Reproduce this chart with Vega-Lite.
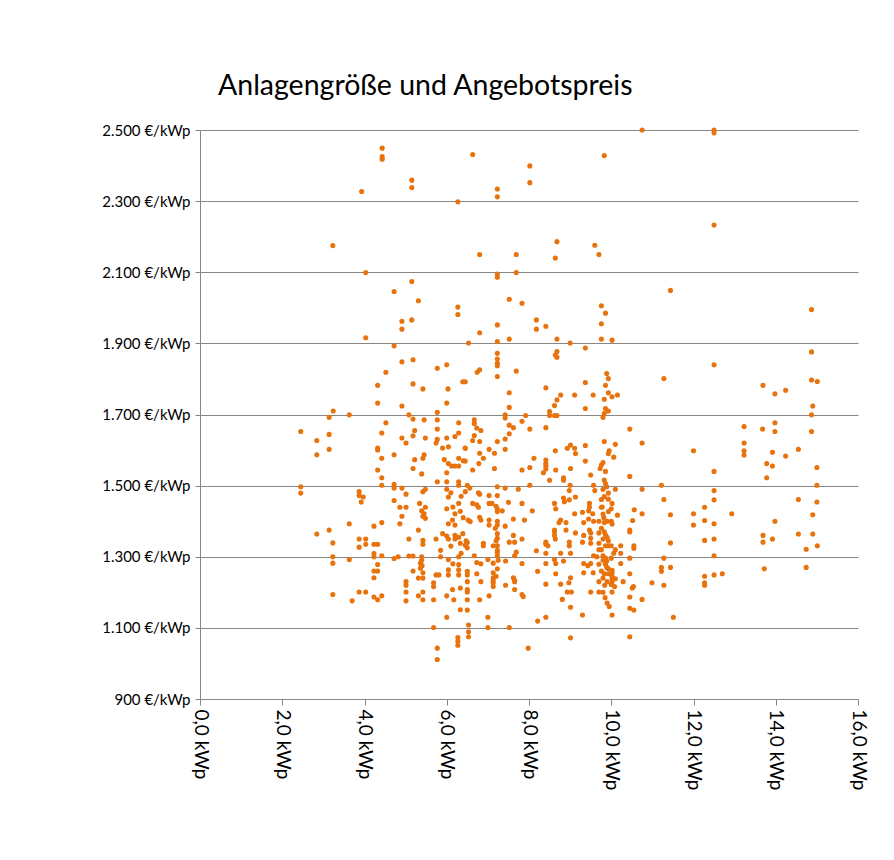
{
 "$schema": "https://vega.github.io/schema/vega-lite/v6.json",
 "width": 658, "height": 569,
 "autosize": {"type": "none"},
 "padding": {"left": 200, "top": 130, "right": 36, "bottom": 161},
 "background": "white",
 "title": {"text": "Anlagengröße und Angebotspreis", "anchor": "start", "frame": "group", "dx": 18, "offset": -6, "baseline": "bottom", "fontSize": 28.5, "font": "Lato", "fontWeight": "normal", "color": "#000000"},
 "config": {"view": {"stroke": null}},
 "data": {"values": [
{"x":4.43,"y":2449},{"x":4.43,"y":2425},{"x":4.43,"y":2418},{"x":3.93,"y":2327},{"x":5.15,"y":2359},{"x":5.15,"y":2338},{"x":6.27,"y":2298},{"x":3.23,"y":2175},
{"x":10.75,"y":2500},{"x":6.63,"y":2431},{"x":9.83,"y":2428},{"x":8.02,"y":2399},{"x":8.02,"y":2352},{"x":7.23,"y":2334},{"x":7.23,"y":2312},{"x":8.68,"y":2186},{"x":9.6,"y":2176},{"x":6.8,"y":2150},{"x":7.69,"y":2150},{"x":8.64,"y":2140},{"x":9.7,"y":2150},
{"x":12.5,"y":2500},{"x":12.5,"y":2492},{"x":12.5,"y":2233},
{"x":4.03,"y":2099},{"x":5.15,"y":2074},{"x":4.72,"y":2046},{"x":5.31,"y":2020},{"x":6.27,"y":2002},{"x":6.27,"y":1981},{"x":4.91,"y":1962},{"x":5.15,"y":1966},{"x":4.91,"y":1940},{"x":4.03,"y":1916},{"x":4.72,"y":1893},{"x":4.91,"y":1848},{"x":5.18,"y":1854},{"x":5.77,"y":1830},{"x":6.0,"y":1840},{"x":4.52,"y":1819},{"x":4.32,"y":1782},{"x":5.18,"y":1786},{"x":5.42,"y":1772},{"x":6.03,"y":1772},{"x":6.39,"y":1792},
{"x":7.23,"y":2095},{"x":7.23,"y":2086},{"x":7.69,"y":2099},{"x":7.52,"y":2024},{"x":7.83,"y":2013},{"x":9.76,"y":2006},{"x":9.86,"y":1985},{"x":9.76,"y":1955},{"x":8.18,"y":1966},{"x":8.18,"y":1940},{"x":8.41,"y":1948},{"x":7.23,"y":1952},{"x":6.8,"y":1930},{"x":6.53,"y":1901},{"x":7.23,"y":1905},{"x":7.52,"y":1912},{"x":8.68,"y":1912},{"x":9.0,"y":1901},{"x":9.37,"y":1887},{"x":9.76,"y":1912},{"x":10.02,"y":1909},{"x":8.68,"y":1877},{"x":8.64,"y":1867},{"x":8.68,"y":1861},{"x":7.23,"y":1872},{"x":7.23,"y":1856},{"x":7.23,"y":1844},{"x":7.23,"y":1837},{"x":7.23,"y":1807},{"x":6.8,"y":1826},{"x":6.74,"y":1819},{"x":7.69,"y":1822},{"x":6.45,"y":1792},{"x":9.89,"y":1815},{"x":9.93,"y":1801},{"x":9.86,"y":1782},{"x":9.93,"y":1761},{"x":9.37,"y":1790},{"x":8.41,"y":1775},{"x":7.52,"y":1761},{"x":8.77,"y":1755},{"x":9.11,"y":1755},{"x":9.56,"y":1755},{"x":10.15,"y":1755},
{"x":11.44,"y":2049},{"x":14.87,"y":1995},{"x":14.87,"y":1876},{"x":12.5,"y":1840},{"x":11.28,"y":1801},{"x":14.87,"y":1797},{"x":15.01,"y":1793},{"x":13.69,"y":1782},{"x":14.24,"y":1768},{"x":13.98,"y":1758},
{"x":14.9,"y":1724},{"x":14.87,"y":1699},{"x":14.87,"y":1652},{"x":13.98,"y":1677},{"x":13.98,"y":1652},{"x":13.68,"y":1659},{"x":13.23,"y":1666},{"x":13.23,"y":1620},{"x":13.23,"y":1598},{"x":13.23,"y":1586},{"x":12.0,"y":1598},{"x":13.92,"y":1594},{"x":14.24,"y":1583},{"x":14.55,"y":1602},{"x":13.78,"y":1562},{"x":13.92,"y":1555},{"x":13.78,"y":1522},{"x":15.0,"y":1551},{"x":12.5,"y":1540},{"x":11.22,"y":1501},{"x":15.0,"y":1501},{"x":12.5,"y":1486},{"x":12.5,"y":1460},{"x":11.28,"y":1461},{"x":14.55,"y":1461},{"x":15.0,"y":1454},{"x":12.27,"y":1439},{"x":11.44,"y":1418},{"x":12.0,"y":1421},{"x":12.93,"y":1421},{"x":14.9,"y":1418},{"x":12.27,"y":1402},{"x":12.0,"y":1389},{"x":12.5,"y":1393},{"x":13.98,"y":1400},
{"x":11.44,"y":1339},{"x":12.27,"y":1346},{"x":12.5,"y":1350},{"x":13.69,"y":1360},{"x":13.69,"y":1341},{"x":13.92,"y":1350},{"x":14.55,"y":1364},{"x":14.9,"y":1364},{"x":15.01,"y":1331},{"x":14.74,"y":1321},{"x":11.28,"y":1296},{"x":12.5,"y":1303},{"x":11.22,"y":1270},{"x":11.22,"y":1259},{"x":11.44,"y":1270},{"x":13.72,"y":1266},{"x":14.74,"y":1270},{"x":12.27,"y":1245},{"x":12.5,"y":1249},{"x":12.7,"y":1252},{"x":12.27,"y":1227},{"x":12.27,"y":1220},{"x":10.99,"y":1227},{"x":11.28,"y":1220},{"x":11.51,"y":1130},
{"x":4.32,"y":1732},{"x":4.91,"y":1724},{"x":6.0,"y":1732},{"x":3.24,"y":1710},{"x":3.14,"y":1692},{"x":3.63,"y":1699},{"x":5.08,"y":1699},{"x":5.18,"y":1687},{"x":5.45,"y":1685},{"x":5.77,"y":1706},{"x":5.77,"y":1685},{"x":6.29,"y":1677},{"x":4.52,"y":1677},{"x":2.45,"y":1652},{"x":4.42,"y":1648},{"x":3.14,"y":1644},{"x":2.84,"y":1627},{"x":5.22,"y":1655},{"x":5.18,"y":1640},{"x":5.77,"y":1659},{"x":4.91,"y":1634},{"x":5.01,"y":1620},{"x":5.48,"y":1634},{"x":5.77,"y":1630},{"x":5.74,"y":1620},{"x":6.0,"y":1634},{"x":6.2,"y":1638},{"x":6.29,"y":1648},{"x":3.14,"y":1602},{"x":2.84,"y":1587},{"x":4.32,"y":1606},{"x":4.32,"y":1600},{"x":4.72,"y":1587},{"x":4.42,"y":1577},{"x":5.45,"y":1587},{"x":5.42,"y":1577},{"x":5.22,"y":1573},{"x":5.9,"y":1606},{"x":6.04,"y":1609},{"x":6.45,"y":1606},{"x":5.94,"y":1573},{"x":6.04,"y":1562},{"x":6.29,"y":1577},{"x":6.4,"y":1570},{"x":6.12,"y":1555},{"x":6.2,"y":1555},{"x":6.29,"y":1555},{"x":4.32,"y":1544},{"x":5.18,"y":1548},{"x":5.39,"y":1533},{"x":4.42,"y":1522},{"x":6.0,"y":1536},{"x":2.45,"y":1497},{"x":2.45,"y":1479},{"x":4.42,"y":1501},{"x":4.72,"y":1504},{"x":4.72,"y":1493},{"x":4.91,"y":1493},{"x":5.77,"y":1511},{"x":6.0,"y":1511},{"x":6.0,"y":1490},{"x":6.29,"y":1511},{"x":6.29,"y":1501},{"x":3.87,"y":1483},{"x":3.87,"y":1472},{"x":3.97,"y":1468},{"x":3.92,"y":1454},{"x":5.01,"y":1476},{"x":5.42,"y":1483},{"x":5.48,"y":1490},{"x":6.04,"y":1468},{"x":4.72,"y":1458},{"x":4.86,"y":1439},{"x":5.01,"y":1439},{"x":5.34,"y":1450},{"x":5.48,"y":1439},{"x":5.39,"y":1429},{"x":5.45,"y":1421},{"x":5.42,"y":1414},{"x":5.48,"y":1408},{"x":4.91,"y":1414},{"x":6.0,"y":1435},{"x":6.29,"y":1450},{"x":6.2,"y":1421},{"x":6.33,"y":1428},{"x":3.63,"y":1393},{"x":4.23,"y":1386},{"x":4.42,"y":1396},{"x":4.86,"y":1393},{"x":6.04,"y":1393},{"x":6.14,"y":1403},{"x":6.2,"y":1389},{"x":3.14,"y":1375},{"x":5.31,"y":1375},
{"x":2.84,"y":1364},{"x":3.87,"y":1350},{"x":4.03,"y":1350},{"x":3.87,"y":1327},{"x":4.03,"y":1335},{"x":3.23,"y":1339},{"x":4.23,"y":1335},{"x":4.32,"y":1335},{"x":5.08,"y":1350},{"x":5.42,"y":1346},{"x":5.42,"y":1335},{"x":5.74,"y":1350},{"x":5.9,"y":1365},{"x":6.0,"y":1358},{"x":6.04,"y":1350},{"x":6.2,"y":1360},{"x":6.2,"y":1350},{"x":6.29,"y":1355},{"x":6.39,"y":1365},{"x":6.33,"y":1338},{"x":6.45,"y":1332},{"x":3.23,"y":1300},{"x":3.23,"y":1282},{"x":3.63,"y":1292},{"x":4.23,"y":1309},{"x":4.23,"y":1300},{"x":4.42,"y":1303},{"x":4.32,"y":1278},{"x":4.23,"y":1260},{"x":4.32,"y":1260},{"x":4.23,"y":1241},{"x":4.72,"y":1295},{"x":4.82,"y":1300},{"x":5.08,"y":1302},{"x":5.18,"y":1302},{"x":5.36,"y":1282},{"x":5.4,"y":1275},{"x":5.36,"y":1268},{"x":5.39,"y":1300},{"x":5.39,"y":1290},{"x":5.18,"y":1260},{"x":5.42,"y":1255},{"x":5.42,"y":1240},{"x":5.31,"y":1240},{"x":5.85,"y":1318},{"x":5.85,"y":1300},{"x":6.04,"y":1292},{"x":6.29,"y":1300},{"x":6.29,"y":1278},{"x":6.29,"y":1263},{"x":6.29,"y":1249},{"x":6.04,"y":1263},{"x":6.04,"y":1249},{"x":5.74,"y":1249},{"x":5.81,"y":1249},{"x":5.68,"y":1227},{"x":5.68,"y":1216},{"x":5.01,"y":1230},{"x":5.01,"y":1220},{"x":5.01,"y":1201},{"x":5.01,"y":1176},{"x":3.23,"y":1194},{"x":3.7,"y":1176},{"x":3.87,"y":1201},{"x":4.03,"y":1201},{"x":4.23,"y":1187},{"x":4.32,"y":1179},{"x":4.42,"y":1190},{"x":5.31,"y":1190},{"x":5.42,"y":1201},{"x":5.42,"y":1179},{"x":5.68,"y":1179},{"x":6.0,"y":1190},{"x":6.14,"y":1208},{"x":6.17,"y":1179},{"x":6.33,"y":1212},{"x":6.33,"y":1151},{"x":6.0,"y":1130},{"x":5.68,"y":1101},{"x":6.27,"y":1073},{"x":6.27,"y":1062},{"x":6.27,"y":1051},{"x":5.77,"y":1043},{"x":5.77,"y":1011},
{"x":7.98,"y":1043},{"x":9.01,"y":1072},{"x":10.45,"y":1075},{"x":7.0,"y":1101},{"x":7.52,"y":1101},{"x":6.53,"y":1108},{"x":6.53,"y":1089},{"x":6.53,"y":1075},{"x":7.0,"y":1130},{"x":8.21,"y":1119},{"x":8.41,"y":1130},{"x":9.3,"y":1136},{"x":10.02,"y":1136},{"x":6.5,"y":1150},{"x":9.01,"y":1158},{"x":10.45,"y":1155},{"x":10.55,"y":1150},{"x":6.8,"y":1179},{"x":6.5,"y":1179},{"x":8.81,"y":1180},{"x":10.75,"y":1180},{"x":7.03,"y":1190},{"x":7.83,"y":1194},{"x":7.86,"y":1188},{"x":10.45,"y":1187},{"x":6.5,"y":1208},{"x":6.5,"y":1201},{"x":7.65,"y":1208},{"x":8.93,"y":1201},{"x":9.03,"y":1201},{"x":9.5,"y":1201},{"x":9.7,"y":1201},{"x":10.02,"y":1201},{"x":10.51,"y":1212},{"x":6.5,"y":1230},{"x":6.83,"y":1230},{"x":7.13,"y":1216},{"x":7.13,"y":1227},{"x":7.43,"y":1220},{"x":7.65,"y":1230},{"x":8.41,"y":1223},{"x":8.77,"y":1223},{"x":8.97,"y":1227},{"x":9.7,"y":1230},{"x":10.02,"y":1230},{"x":10.29,"y":1230},{"x":10.54,"y":1216},{"x":6.5,"y":1259},{"x":6.5,"y":1249},{"x":6.73,"y":1252},{"x":7.13,"y":1255},{"x":7.13,"y":1241},{"x":7.13,"y":1233},{"x":7.23,"y":1266},{"x":7.62,"y":1241},{"x":7.65,"y":1234},{"x":8.21,"y":1259},{"x":8.65,"y":1252},{"x":9.01,"y":1241},{"x":9.33,"y":1255},{"x":9.56,"y":1255},{"x":10.02,"y":1255},{"x":10.02,"y":1262},{"x":10.45,"y":1252},{"x":9.9,"y":1230},{"x":10.0,"y":1222},{"x":10.08,"y":1216},{"x":6.67,"y":1303},{"x":6.73,"y":1284},{"x":6.83,"y":1280},{"x":7.0,"y":1292},{"x":7.13,"y":1282},{"x":7.23,"y":1303},{"x":7.23,"y":1313},{"x":7.43,"y":1288},{"x":7.65,"y":1303},{"x":7.69,"y":1313},{"x":7.83,"y":1281},{"x":8.18,"y":1317},{"x":8.41,"y":1310},{"x":8.41,"y":1281},{"x":8.62,"y":1292},{"x":8.65,"y":1281},{"x":8.77,"y":1310},{"x":8.84,"y":1288},{"x":9.01,"y":1310},{"x":9.33,"y":1281},{"x":9.43,"y":1275},{"x":9.5,"y":1281},{"x":9.57,"y":1303},{"x":9.7,"y":1279},{"x":9.8,"y":1303},{"x":9.86,"y":1296},{"x":9.89,"y":1288},{"x":9.86,"y":1279},{"x":9.89,"y":1270},{"x":9.93,"y":1266},{"x":9.83,"y":1252},{"x":9.93,"y":1252},{"x":10.02,"y":1245},{"x":10.02,"y":1238},{"x":10.1,"y":1238},{"x":10.23,"y":1310},{"x":10.23,"y":1281},{"x":10.45,"y":1296},{"x":10.55,"y":1331},{"x":10.55,"y":1324},{"x":10.45,"y":1370},{"x":6.89,"y":1338},{"x":6.89,"y":1331},{"x":7.23,"y":1365},{"x":7.23,"y":1352},{"x":7.23,"y":1331},{"x":7.23,"y":1318},{"x":7.13,"y":1331},{"x":7.52,"y":1341},{"x":7.65,"y":1341},{"x":7.62,"y":1360},{"x":7.83,"y":1350},{"x":8.41,"y":1341},{"x":8.41,"y":1335},{"x":8.46,"y":1331},{"x":8.62,"y":1360},{"x":8.64,"y":1350},{"x":8.62,"y":1370},{"x":8.98,"y":1341},{"x":8.98,"y":1331},{"x":9.13,"y":1367},{"x":9.3,"y":1341},{"x":9.33,"y":1360},{"x":9.5,"y":1367},{"x":9.5,"y":1352},{"x":9.5,"y":1338},{"x":9.7,"y":1367},{"x":9.7,"y":1338},{"x":9.83,"y":1370},{"x":9.86,"y":1362},{"x":9.9,"y":1355},{"x":9.93,"y":1345},{"x":9.86,"y":1331},{"x":9.93,"y":1331},{"x":10.0,"y":1331},{"x":10.1,"y":1320},{"x":10.06,"y":1310},{"x":10.0,"y":1296},{"x":10.23,"y":1331},{"x":6.47,"y":1345},{"x":6.5,"y":1340},{"x":6.5,"y":1325},
{"x":8.68,"y":1741},{"x":8.62,"y":1725},{"x":8.5,"y":1708},{"x":8.5,"y":1697},{"x":8.62,"y":1697},{"x":8.68,"y":1697},{"x":9.83,"y":1743},{"x":10.02,"y":1750},{"x":9.37,"y":1717},{"x":9.86,"y":1717},{"x":9.93,"y":1710},{"x":9.83,"y":1703},{"x":9.8,"y":1692},{"x":7.52,"y":1720},{"x":7.42,"y":1699},{"x":7.42,"y":1690},{"x":6.67,"y":1685},{"x":6.67,"y":1675},{"x":6.73,"y":1662},{"x":7.92,"y":1697},{"x":7.83,"y":1681},{"x":7.52,"y":1670},{"x":7.62,"y":1663},{"x":8.41,"y":1663},{"x":8.02,"y":1659},{"x":10.45,"y":1659},{"x":6.83,"y":1655},{"x":7.52,"y":1646},{"x":6.67,"y":1641},{"x":6.63,"y":1627},{"x":6.8,"y":1624},{"x":7.23,"y":1624},{"x":7.42,"y":1631},{"x":6.45,"y":1605},{"x":7.03,"y":1602},{"x":7.16,"y":1591},{"x":7.42,"y":1602},{"x":6.8,"y":1591},{"x":6.89,"y":1577},{"x":6.78,"y":1562},{"x":6.45,"y":1569},{"x":6.63,"y":1544},{"x":7.16,"y":1548},{"x":8.12,"y":1577},{"x":8.02,"y":1551},{"x":7.83,"y":1544},{"x":8.41,"y":1572},{"x":8.41,"y":1562},{"x":8.41,"y":1555},{"x":8.41,"y":1547},{"x":8.35,"y":1536},{"x":8.64,"y":1598},{"x":8.93,"y":1605},{"x":9.01,"y":1614},{"x":9.11,"y":1605},{"x":9.13,"y":1590},{"x":9.37,"y":1613},{"x":9.83,"y":1624},{"x":10.1,"y":1616},{"x":9.95,"y":1598},{"x":9.93,"y":1590},{"x":10.06,"y":1580},{"x":10.75,"y":1620},{"x":9.37,"y":1569},{"x":8.65,"y":1544},{"x":9.01,"y":1548},{"x":8.5,"y":1515},{"x":8.84,"y":1522},{"x":8.84,"y":1515},{"x":9.5,"y":1530},{"x":9.8,"y":1565},{"x":9.76,"y":1558},{"x":9.73,"y":1548},{"x":9.86,"y":1540},{"x":10.45,"y":1526},{"x":9.83,"y":1516},{"x":9.86,"y":1506},{"x":8.02,"y":1501},{"x":7.23,"y":1497},{"x":7.42,"y":1493},{"x":6.5,"y":1501},{"x":6.56,"y":1493},{"x":7.74,"y":1490},{"x":9.0,"y":1501},{"x":8.98,"y":1486},{"x":9.57,"y":1501},{"x":9.6,"y":1486},{"x":9.89,"y":1497},{"x":9.8,"y":1490},{"x":9.93,"y":1479},{"x":10.1,"y":1490},{"x":10.75,"y":1490},{"x":6.77,"y":1480},{"x":6.8,"y":1476},{"x":7.03,"y":1472},{"x":7.23,"y":1472},{"x":6.45,"y":1483},{"x":8.84,"y":1465},{"x":8.86,"y":1455},{"x":8.62,"y":1450},{"x":8.65,"y":1435},{"x":9.13,"y":1468},{"x":8.98,"y":1460},{"x":9.83,"y":1469},{"x":9.76,"y":1461},{"x":9.93,"y":1462},{"x":10.02,"y":1450},{"x":9.47,"y":1450},{"x":9.47,"y":1439},{"x":9.45,"y":1429},{"x":9.55,"y":1421},{"x":9.76,"y":1439},{"x":10.0,"y":1435},{"x":9.93,"y":1427},{"x":10.56,"y":1432},{"x":10.15,"y":1417},{"x":10.75,"y":1421},{"x":9.3,"y":1425},{"x":9.11,"y":1421},{"x":6.63,"y":1450},{"x":6.73,"y":1446},{"x":6.77,"y":1439},{"x":7.03,"y":1450},{"x":7.1,"y":1450},{"x":7.2,"y":1442},{"x":7.23,"y":1435},{"x":7.23,"y":1427},{"x":7.5,"y":1453},{"x":7.83,"y":1450},{"x":7.35,"y":1429},{"x":8.08,"y":1429},{"x":6.52,"y":1403},{"x":6.57,"y":1399},{"x":6.8,"y":1411},{"x":6.83,"y":1403},{"x":7.03,"y":1403},{"x":7.03,"y":1389},{"x":7.23,"y":1400},{"x":7.23,"y":1389},{"x":7.42,"y":1386},{"x":7.62,"y":1406},{"x":7.89,"y":1403},{"x":8.77,"y":1403},{"x":8.9,"y":1396},{"x":8.73,"y":1396},{"x":9.33,"y":1396},{"x":9.45,"y":1406},{"x":9.57,"y":1400},{"x":9.7,"y":1400},{"x":9.83,"y":1396},{"x":9.9,"y":1400},{"x":10.0,"y":1400},{"x":10.02,"y":1392},{"x":10.52,"y":1402},{"x":10.45,"y":1375},{"x":8.62,"y":1375},{"x":8.9,"y":1375},{"x":9.47,"y":1375},
{"x":9.78,"y":1440},{"x":9.8,"y":1420},{"x":9.82,"y":1410},{"x":9.76,"y":1380},{"x":9.8,"y":1350},{"x":9.76,"y":1320},{"x":9.8,"y":1290},{"x":9.76,"y":1260},{"x":9.8,"y":1240},{"x":9.84,"y":1220},{"x":9.8,"y":1200},{"x":9.85,"y":1185},{"x":9.9,"y":1170},{"x":9.95,"y":1160},{"x":9.7,"y":1320},{"x":9.65,"y":1300},{"x":7.18,"y":1380},{"x":7.2,"y":1345},{"x":7.25,"y":1290},{"x":7.2,"y":1245},{"x":6.1,"y":1480},{"x":6.35,"y":1470},{"x":6.15,"y":1440},{"x":6.4,"y":1410},{"x":6.1,"y":1330},{"x":6.35,"y":1310},{"x":6.15,"y":1280}
 ]},
 "mark": {"type": "circle", "size": 26, "opacity": 1, "color": "#E8720C"},
 "encoding": {
  "x": {"field": "x", "type": "quantitative", "scale": {"domain": [0, 16], "nice": false, "zero": false},
   "axis": {"title": null, "values": [0, 2, 4, 6, 8, 10, 12, 14, 16], "labelExpr": "replace(format(datum.value, '.1f'), '.', ',') + ' kWp'", "labelAngle": 90, "labelAlign": "left", "labelBaseline": "middle", "labelFont": "Lato", "labelFontSize": 19, "labelColor": "#000000", "labelPadding": 4, "grid": false, "domainColor": "#868686", "tickColor": "#868686", "tickSize": 6, "labelFlush": false, "labelOverlap": false}},
  "y": {"field": "y", "type": "quantitative", "scale": {"domain": [900, 2500], "nice": false, "zero": false},
   "axis": {"title": null, "values": [900, 1100, 1300, 1500, 1700, 1900, 2100, 2300, 2500], "labelExpr": "replace(format(datum.value, ',d'), ',', '.') + ' €/kWp'", "labelFont": "Lato", "labelFontSize": 15, "labelColor": "#000000", "labelPadding": 5, "gridColor": "#868686", "domainColor": "#868686", "tickColor": "#868686", "tickSize": 5, "labelFlush": false, "labelOverlap": false}}
 }
}
